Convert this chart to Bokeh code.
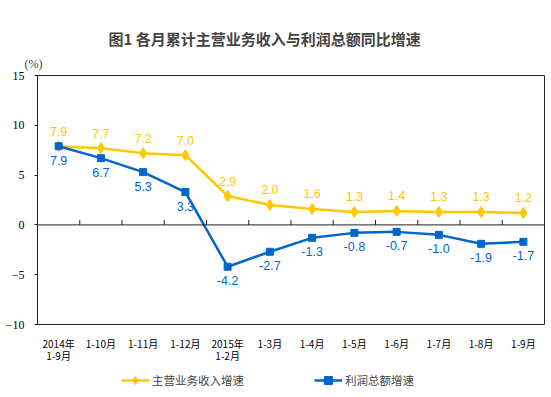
from bokeh.plotting import figure
from bokeh.layouts import column
from bokeh.models import (Range1d, FixedTicker, LinearAxis, Legend, LegendItem,
                          Title, ColumnDataSource, Span)
from bokeh.core.properties import value
from bokeh.embed import file_html
from bokeh.resources import INLINE

categories = ["2014年\n1-9月", "1-10月", "1-11月", "1-12月", "2015年\n1-2月", "1-3月",
              "1-4月", "1-5月", "1-6月", "1-7月", "1-8月", "1-9月"]
revenue = [7.9, 7.7, 7.2, 7.0, 2.9, 2.0, 1.6, 1.3, 1.4, 1.3, 1.3, 1.2]
profit = [7.9, 6.7, 5.3, 3.3, -4.2, -2.7, -1.3, -0.8, -0.7, -1.0, -1.9, -1.7]
y_ticks = [-10, -5, 0, 5, 10, 15]
series_names = ["主营业务收入增速", "利润总额增速"]
title_text = "图1  各月累计主营业务收入与利润总额同比增速"
unit_text = "(%)"

YELLOW = "#FFC800"
BLUE = "#0066CC"
CJK = "Noto Sans CJK SC"

n = len(categories)
xs = [i + 0.5 for i in range(n)]
bounds = list(range(1, n))
src = ColumnDataSource(dict(
    x=xs, rev=revenue, pro=profit,
    rev_lbl=[f"{v:.1f}" for v in revenue],
    pro_lbl=[f"{v:.1f}" for v in profit],
))

p = figure(width=548, height=365, output_backend="svg", toolbar_location=None,
           title=None,
           x_range=Range1d(0, n), y_range=Range1d(y_ticks[0], y_ticks[-1]),
           x_axis_location=None, y_axis_location="left",
           min_border_left=37, min_border_right=4, min_border_top=75, min_border_bottom=40)
p.grid.visible = False
p.outline_line_color = "#222222"
p.outline_line_width = 1
p.background_fill_color = "white"
p.border_fill_color = "white"

# unit label (nearest to the frame) and main title above it
p.add_layout(Title(text=unit_text, text_font="Liberation Serif", text_font_size="12px",
                   text_font_style="normal", align="left", offset=-13, standoff=10), "above")
p.add_layout(Title(text=title_text, text_font=CJK, text_font_size="15px",
                   text_font_style="bold", align="left", offset=71, standoff=1), "above")

# y axis
ya = p.yaxis[0]
ya.ticker = FixedTicker(ticks=y_ticks)
ya.major_label_text_font = "Liberation Serif"
ya.major_label_text_font_size = "12px"
ya.major_label_text_color = "black"
ya.major_tick_in = 0
ya.major_tick_out = 3
ya.minor_tick_line_color = None
ya.axis_line_color = "#222222"
ya.major_tick_line_color = "#222222"
ya.major_label_standoff = 10

# zero line with inward ticks at category boundaries
p.add_layout(Span(location=0, dimension="width", line_color="#222222", line_width=1))
p.segment(x0=bounds, y0=[0] * len(bounds), x1=bounds, y1=[0.5] * len(bounds),
          line_color="#222222", line_width=1)

# category label axis at bottom
label_axis = LinearAxis(ticker=FixedTicker(ticks=xs),
                        major_label_overrides={x: c for x, c in zip(xs, categories)},
                        major_tick_line_color=None, minor_tick_line_color=None,
                        axis_line_color=None, major_label_standoff=5,
                        major_label_text_font=CJK, major_label_text_font_size="10px",
                        major_label_text_line_height=0.8,
                        major_label_text_color="black")
p.add_layout(label_axis, "below")

# series
p.line("x", "rev", source=src, line_color=YELLOW, line_width=2.5)
p.scatter("x", "rev", source=src, marker="diamond", size=11,
          fill_color=YELLOW, line_color=YELLOW)
p.line("x", "pro", source=src, line_color=BLUE, line_width=2.5)
p.scatter("x", "pro", source=src, marker="square", size=7,
          fill_color=BLUE, line_color=BLUE)

p.text("x", "rev", text="rev_lbl", source=src, text_color=YELLOW,
       text_font=value("Liberation Sans"), text_font_size="12.5px",
       text_align="center", text_baseline="middle", y_offset=-15)
p.text("x", "pro", text="pro_lbl", source=src, text_color=BLUE,
       text_font=value("Liberation Sans"), text_font_size="12.5px",
       text_align="center", text_baseline="middle", y_offset=14)

# legend strip below the chart (its glyph renderers sit outside the visible range)
lf = figure(width=548, height=30, output_backend="svg", toolbar_location=None,
            title=None, x_range=Range1d(0, 1), y_range=Range1d(0, 1),
            x_axis_location=None, y_axis_location=None, min_border=0,
            min_border_left=0, min_border_right=0, min_border_top=0, min_border_bottom=0)
lf.grid.visible = False
lf.outline_line_color = None
lsrc = ColumnDataSource(dict(x=[5, 6], y=[5, 6]))
l1 = lf.line("x", "y", source=lsrc, line_color=YELLOW, line_width=2.5)
s1 = lf.scatter("x", "y", source=lsrc, marker="diamond", size=9,
                fill_color=YELLOW, line_color=YELLOW)
l2 = lf.line("x", "y", source=lsrc, line_color=BLUE, line_width=2.5)
s2 = lf.scatter("x", "y", source=lsrc, marker="square", size=6,
                fill_color=BLUE, line_color=BLUE)

legend = Legend(items=[LegendItem(label=series_names[0], renderers=[l1, s1]),
                       LegendItem(label=series_names[1], renderers=[l2, s2])],
                orientation="horizontal", location=(84, 5), padding=0, margin=0,
                spacing=52, glyph_width=28, glyph_height=20, label_width=110,
                label_standoff=3, label_height=20,
                label_text_font=CJK, label_text_font_size="11.5px",
                border_line_color=None, background_fill_alpha=0)
lf.add_layout(legend, "center")

open("out.html", "w").write(file_html(column(p, lf, spacing=0), INLINE))
